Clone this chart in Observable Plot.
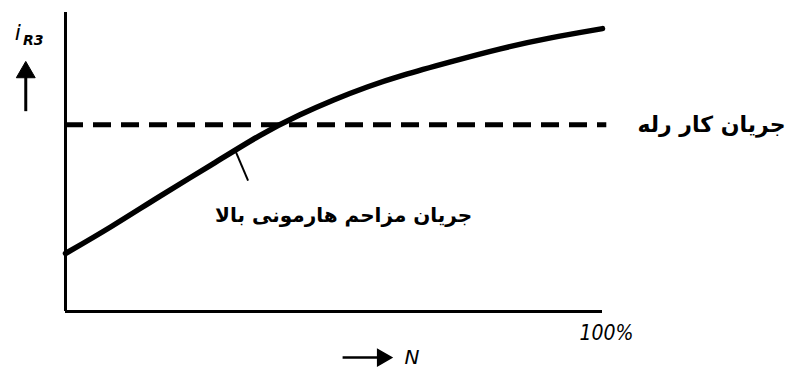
<!DOCTYPE html>
<html>
<head>
<meta charset="utf-8">
<script src="https://cdn.jsdelivr.net/npm/d3@7"></script>
<script src="https://cdn.jsdelivr.net/npm/@observablehq/plot@0.6"></script>
<style>
  html, body { margin: 0; padding: 0; background: #fff; }
  svg { display: block; }
</style>
</head>
<body>
<div id="chart"></div>
<script>
// Harmonic inrush current curve (N in %, i_R3 relative units)
const curveN = [0, 8.4, 17.7, 27.0, 36.3, 43.8, 49.9, 56.2, 62.4, 71.7, 81.0, 90.3, 100];
const curveI = [19.4, 28.1, 38.8, 48.8, 59.3, 66.0, 70.8, 75.2, 78.9, 83.5, 88.0, 91.6, 94.6];
// Relay operating current level
const relayLevel = [62.5];
const xTickValues = [100];
const xTickLabels = ["100%"];
const relayLabel = "جریان کار رله";
const inrushLabel = "جریان مزاحم هارمونی بالا";
const yLabelMain = "i";
const yLabelSub = "R3";
const xLabel = "N";

const curve = curveN.map((n, i) => ({n, i: curveI[i]}));
const leader = [{x1: 31.7, y1: 53.5, x2: 34.0, y2: 43.8}];
const upArrow = [{x: -7.4, y1: 67, y2: 80}];
const rightArrow = [{x1: 51.6, x2: 59, y: -15.4}];

const ink = "#000";
const plot = Plot.plot({
  width: 799,
  height: 368,
  marginLeft: 65,
  marginRight: 197,
  marginTop: 12,
  marginBottom: 57,
  x: {domain: [0, 100], axis: null},
  y: {domain: [0, 100], axis: null},
  style: {background: "#fff", color: ink},
  marks: [
    Plot.ruleX([0], {stroke: ink, strokeWidth: 3}),
    Plot.ruleY([0], {stroke: ink, strokeWidth: 3}),
    Plot.axisX(xTickValues, {
      tickSize: 0, tickPadding: 0, tickFormat: (d) => xTickLabels[xTickValues.indexOf(d)],
      fontSize: 21, fontStyle: "italic", fontFamily: "Liberation Sans Narrow, DejaVu Sans Condensed, sans-serif",
      dx: 4, dy: 14, fill: ink
    }),
    Plot.ruleY(relayLevel, {x1: 0, x2: 100.8, stroke: ink, strokeWidth: 5, strokeDasharray: "18,10"}),
    Plot.line(curve, {x: "n", y: "i", curve: "basis", stroke: ink, strokeWidth: 5.5, strokeLinecap: "round"}),
    Plot.link(leader, {x1: "x1", y1: "y1", x2: "x2", y2: "y2", stroke: ink, strokeWidth: 2}),
    Plot.text([inrushLabel], {x: 51.8, y: 32, text: d => d, fontSize: 20, fontWeight: "bold", fontFamily: "DejaVu Sans", fill: ink}),
    Plot.text([relayLabel], {x: 106.5, y: relayLevel[0], text: d => d, textAnchor: "start", fontSize: 22, fontWeight: "bold", fontFamily: "DejaVu Sans", fill: ink, clip: false}),
    // y-axis label i_R3 with up arrow
    Plot.text([yLabelMain], {x: -8.9, y: 93, text: d => d, fontSize: 22, fontStyle: "italic", fontFamily: "DejaVu Sans", fill: ink}),
    Plot.text([yLabelSub], {x: -6.0, y: 90.6, text: d => d, fontSize: 14, fontStyle: "italic", fontWeight: "bold", fontFamily: "DejaVu Sans", fill: ink}),
    Plot.link(upArrow, {x1: "x", x2: "x", y1: "y1", y2: "y2", stroke: ink, strokeWidth: 3}),
    Plot.dot(upArrow, {x: "x", y: "y2", symbol: "triangle", r: 7, fill: ink, stroke: ink, strokeWidth: 1}),
    // x-axis label arrow N
    Plot.link(rightArrow, {x1: "x1", x2: "x2", y1: "y", y2: "y", stroke: ink, strokeWidth: 2.5}),
    Plot.dot(rightArrow, {x: "x2", y: "y", symbol: "triangle", rotate: 90, r: 6, fill: ink, stroke: ink}),
    Plot.text([xLabel], {x: 64.5, y: -15.4, text: d => d, fontSize: 20, fontStyle: "italic", fontFamily: "DejaVu Sans", fill: ink})
  ]
});
document.getElementById("chart").append(plot);
</script>
</body>
</html>
